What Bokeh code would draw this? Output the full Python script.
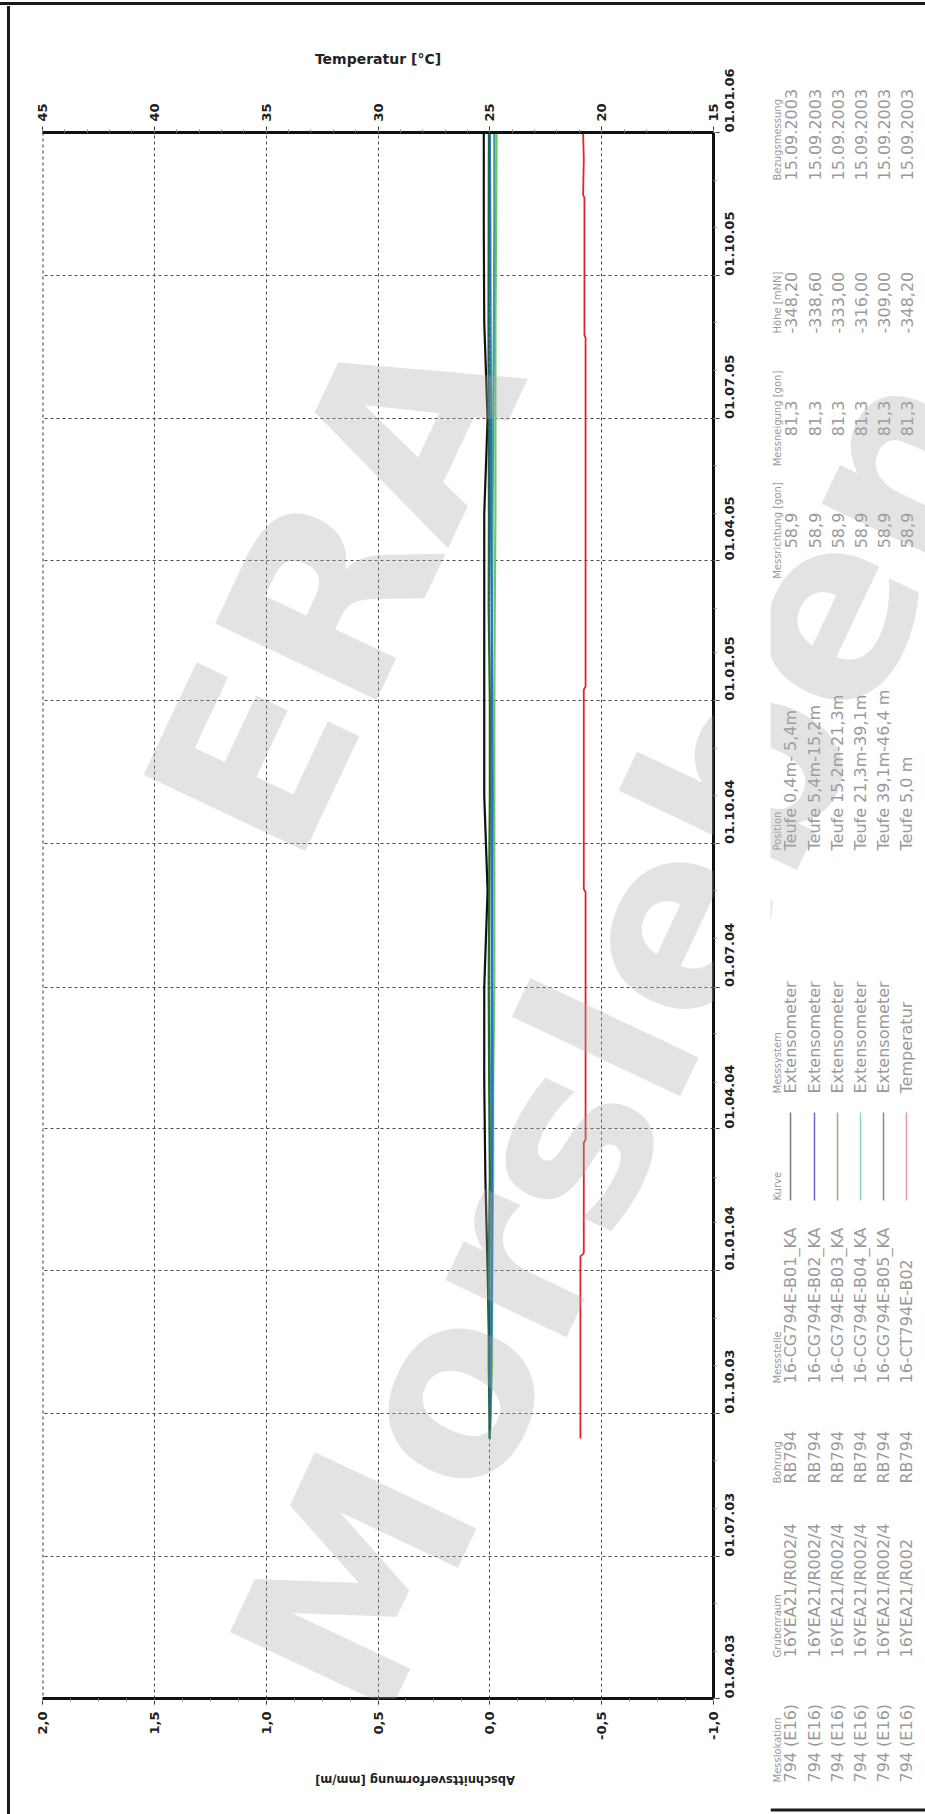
import math
from datetime import datetime
from bokeh.plotting import figure
from bokeh.layouts import row, column
from bokeh.models import (Range1d, LinearAxis, FixedTicker, CustomJSTickFormatter, Label,
                          Span, Spacer, Div)
from bokeh.core.properties import value
from bokeh.embed import file_html
from bokeh.resources import INLINE

# ---------------- data ----------------
ext_dates = ["2003-09-15", "2003-11-01", "2004-01-01", "2004-03-01", "2004-05-01",
             "2004-07-01", "2004-09-01", "2004-11-01", "2005-01-01", "2005-03-01",
             "2005-05-01", "2005-07-01", "2005-09-01", "2005-11-01", "2005-12-31"]
b01 = [0.000, 0.000, 0.010, 0.020, 0.025, 0.025, 0.010, 0.025, 0.025, 0.025, 0.025, 0.010, 0.025, 0.027, 0.027]
b02 = [0.000, -0.005, -0.010, -0.010, -0.012, -0.010, -0.010, -0.012, -0.010, -0.008, -0.005, -0.005, -0.003, -0.002, 0.000]
b03 = [0.000, 0.005, 0.005, 0.000, 0.003, 0.005, 0.003, 0.000, 0.000, 0.005, 0.004, 0.005, 0.006, 0.005, 0.004]
b04 = [0.000, -0.010, -0.010, -0.015, -0.015, -0.020, -0.020, -0.020, -0.020, -0.022, -0.025, -0.025, -0.025, -0.028, -0.030]
b05 = [0.000, -0.005, -0.005, -0.008, -0.006, -0.008, -0.008, -0.006, -0.008, -0.010, -0.012, -0.015, -0.018, -0.020, -0.020]

temp_dates = ["2003-09-15", "2004-01-10", "2004-01-12", "2004-03-23", "2004-03-25",
              "2004-08-31", "2004-09-02", "2005-01-08", "2005-01-10", "2005-08-22",
              "2005-08-24", "2005-11-20", "2005-11-22", "2005-12-15", "2006-01-01"]
temp_vals = [20.95, 20.95, 20.80, 20.80, 20.72, 20.72, 20.80, 20.80, 20.72, 20.72,
             20.77, 20.77, 20.83, 20.80, 20.83]

value_ticks = [2.0, 1.5, 1.0, 0.5, 0.0, -0.5, -1.0]
temp_ticks = [45, 40, 35, 30, 25, 20, 15]
date_ticks = ["2003-04-01", "2003-07-01", "2003-10-01", "2004-01-01", "2004-04-01", "2004-07-01",
              "2004-10-01", "2005-01-01", "2005-04-01", "2005-07-01", "2005-10-01", "2006-01-01"]

series_names = ["16-CG794E-B01_KA", "16-CG794E-B02_KA", "16-CG794E-B03_KA",
                "16-CG794E-B04_KA", "16-CG794E-B05_KA", "16-CT794E-B02"]
messlokation = ["794 (E16)"] * 6
grubenraum = ["16YEA21/R002/4"] * 5 + ["16YEA21/R002"]
bohrung = ["RB794"] * 6
messsystem = ["Extensometer"] * 5 + ["Temperatur"]
position = ["Teufe 0,4m- 5,4m", "Teufe 5,4m-15,2m", "Teufe 15,2m-21,3m",
            "Teufe 21,3m-39,1m", "Teufe 39,1m-46,4 m", "Teufe 5,0 m"]
messrichtung = ["58,9"] * 6
messneigung = ["81,3"] * 6
hoehe = ["-348,20", "-338,60", "-333,00", "-316,00", "-309,00", "-348,20"]
bezugsmessung = ["15.09.2003"] * 6

line_colors = ["#111111", "#2f6fc4", "#1f6b3c", "#6cc76a", "#3aa590", "#e3222d"]
legend_colors = ["#707a90", "#6a6ac8", "#a4a488", "#8fd6b4", "#8a8a8a", "#e49aaa"]

# ---------------- helpers ----------------
EPOCH = datetime(1970, 1, 1)


def ms(s):
    return (datetime.strptime(s, "%Y-%m-%d") - EPOCH).total_seconds() * 1000.0


T0, T1 = ms("2003-04-01"), ms("2006-01-01")
FX0, FX1, FY_TOP, FY_BOT = 42, 713, 132, 1698     # frame in page pixels
AX, AY, AW, AH = 10, 6, 750, 1758                 # main figure in page pixels


def vx(xp):  # page x -> value
    return 2.0 + (xp - FX0) * (-3.0) / (FX1 - FX0)


def ty(yp):  # page y -> time ms
    return T0 + (FY_BOT - yp) * (T1 - T0) / (FY_BOT - FY_TOP)


WM = [("ERA", 335, 588, "center", "middle"), ("Morsleben", 305, 1692, "left", "alphabetic")]
WM_SIZE, WM_ANGLE = "245px", 1.13
WM_COLOR, WM_ALPHA = "#a8a8a8", 0.32

# ---------------- main chart ----------------
p = figure(width=AW, height=AH,
           x_range=Range1d(2.0, -1.0), y_range=Range1d(T0, T1),
           y_axis_location="right", x_axis_location="below",
           output_backend="svg", toolbar_location=None,
           min_border_left=FX0 - AX, min_border_right=AX + AW - FX1,
           min_border_top=FY_TOP - AY, min_border_bottom=AY + AH - FY_BOT)
p.title.text = ""
p.outline_line_color = None
p.background_fill_color = "white"
p.border_fill_color = "white"
p.extra_x_ranges = {"temp": Range1d(45, 15)}


def style_axis(ax):
    ax.axis_line_width = 3
    ax.axis_line_color = "#111111"
    ax.major_tick_in = 0
    ax.major_tick_out = 6
    ax.major_tick_line_color = "#333333"
    ax.minor_tick_in = 0
    ax.minor_tick_out = 3
    ax.minor_tick_line_color = "#888888"
    ax.major_label_text_font = "DejaVu Sans"
    ax.major_label_text_font_style = "bold"
    ax.major_label_text_font_size = "13px"
    ax.major_label_text_color = "#222222"
    ax.major_label_orientation = math.pi / 2


xa = p.below[0]
xa.ticker = FixedTicker(ticks=value_ticks, minor_ticks=[i * 0.125 - 1.0 for i in range(25)])
xa.formatter = CustomJSTickFormatter(code="return tick.toFixed(1).replace('.', ',');")
style_axis(xa)
xa.major_label_standoff = 7

ya = p.right[0]
minor_dates = []
for yy in range(2003, 2007):
    for mm in range(1, 13):
        minor_dates.append(ms("%04d-%02d-01" % (yy, mm)))
ya.ticker = FixedTicker(ticks=[ms(d) for d in date_ticks], minor_ticks=minor_dates)
ya.formatter = CustomJSTickFormatter(code="""
const d = new Date(tick);
const f = (n) => String(n).padStart(2, '0');
return f(d.getUTCDate()) + '.' + f(d.getUTCMonth() + 1) + '.' + f(d.getUTCFullYear() % 100);
""")
style_axis(ya)
ya.major_label_standoff = 10

ta = LinearAxis(x_range_name="temp",
                ticker=FixedTicker(ticks=temp_ticks, minor_ticks=list(range(15, 46))),
                axis_label="Temperatur [°C]")
style_axis(ta)
ta.major_label_standoff = 5
ta.axis_label_text_font = "DejaVu Sans"
ta.axis_label_text_font_style = "bold"
ta.axis_label_text_font_size = "14px"
ta.axis_label_text_color = "#222222"
ta.axis_label_standoff = 33
p.add_layout(ta, "above")

for g in (p.xgrid[0], p.ygrid[0]):
    g.grid_line_color = "#4a4a4a"
    g.grid_line_dash = "3 3"
    g.grid_line_width = 1
p.add_layout(Span(location=2.0, dimension="height", line_color="#333333",
                  line_dash="3 3", line_width=2))

ext_t = [ms(d) for d in ext_dates]
ext_series = [b01, b02, b03, b04, b05]
for i in [0, 3, 4, 1, 2]:
    p.line(ext_series[i], ext_t, line_color=line_colors[i], line_width=2.2)
p.line(temp_vals, [ms(d) for d in temp_dates], x_range_name="temp",
       line_color=line_colors[5], line_width=1.8)

for txt, px, py, al, bl in WM:
    p.add_layout(Label(x=vx(px), y=ty(py), text=txt, angle=WM_ANGLE,
                       text_font="DejaVu Sans", text_font_style="bold", text_font_size=WM_SIZE,
                       text_color=WM_COLOR, text_alpha=WM_ALPHA, text_align=al, text_baseline=bl,
                       level="overlay"))

# ---------------- upside-down axis title (below the chart) ----------------
title_div = Div(text="Abschnittsverformung [mm/m]", width=AW, height=22,
                styles={"transform": "rotate(180deg)", "text-align": "center",
                        "line-height": "22px", "font-family": "'DejaVu Sans'",
                        "font-weight": "bold", "font-size": "11.5px", "color": "#222222",
                        "padding-right": "50px", "box-sizing": "border-box"})

# ---------------- legend table (right strip) ----------------
BX, BY, BW, BH = 760, 6, 165, 1808
b = figure(width=BW, height=BH, x_range=Range1d(BX, BX + BW), y_range=Range1d(BY + BH, BY),
           x_axis_type=None, y_axis_type=None, output_backend="svg", toolbar_location=None,
           min_border=0)
b.title.text = ""
b.outline_line_color = None
b.grid.visible = False

header_x = 767
row_x = [780, 804, 827, 850, 873, 896]
columns = [
    ("Messlokation", messlokation, 1782, "left"),
    ("Grubenraum", grubenraum, 1657, "left"),
    ("Bohrung", bohrung, 1483, "left"),
    ("Messstelle", series_names, 1383, "left"),
    ("Messsystem", messsystem, 1093, "left"),
    ("Position", position, 850, "left"),
    ("Messrichtung [gon]", messrichtung, 530, "center"),
    ("Messneigung [gon]", messneigung, 418, "center"),
    ("Höhe [mNN]", hoehe, 333, "left"),
    ("Bezugsmessung", bezugsmessung, 180, "left"),
]
for head, vals, ystart, al in columns:
    b.text(x=[header_x], y=[ystart], text=[head], angle=math.pi / 2,
           text_font=value("DejaVu Sans"), text_font_size="10px", text_color="#9a9a9a",
           text_align=al, text_baseline="middle")
    b.text(x=row_x, y=[ystart] * len(vals), text=vals, angle=math.pi / 2,
           text_font=value("DejaVu Sans"), text_font_size="16px", text_color="#9a9a9a",
           text_align=al, text_baseline="middle")
b.text(x=[header_x], y=[1200], text=["Kurve"], angle=math.pi / 2,
       text_font=value("DejaVu Sans"), text_font_size="10px", text_color="#9a9a9a",
       text_align="left", text_baseline="middle")
b.segment(x0=row_x, y0=[1200] * 6, x1=row_x, y1=[1112] * 6, line_color=legend_colors, line_width=1.5)
b.quad(left=[920], right=[923], top=[BY], bottom=[1811], fill_color="#1a1a1a", line_color=None)
b.quad(left=[BX], right=[923], top=[1808], bottom=[1811], fill_color="#1a1a1a", line_color=None)
for txt, px, py, al, bl in WM:
    b.add_layout(Label(x=px, y=py, text=txt, angle=WM_ANGLE,
                       text_font="DejaVu Sans", text_font_style="bold", text_font_size=WM_SIZE,
                       text_color=WM_COLOR, text_alpha=WM_ALPHA, text_align=al, text_baseline=bl,
                       level="overlay"))

# ---------------- border strips ----------------
top = column(Spacer(width=925, height=2),
             Spacer(width=925, height=3, styles={"background-color": "#1a1a1a"}),
             Spacer(width=925, height=1))
left = row(Spacer(width=7, height=BH),
           Spacer(width=3, height=BH, styles={"background-color": "#1a1a1a"}))
bottom = column(title_div,
                Spacer(width=AW, height=22),
                Spacer(width=AW, height=3, styles={"background-color": "#1a1a1a"}),
                Spacer(width=AW, height=3))

layout = column(top, row(left, column(p, bottom), b))
open("out.html", "w").write(file_html(layout, INLINE))
